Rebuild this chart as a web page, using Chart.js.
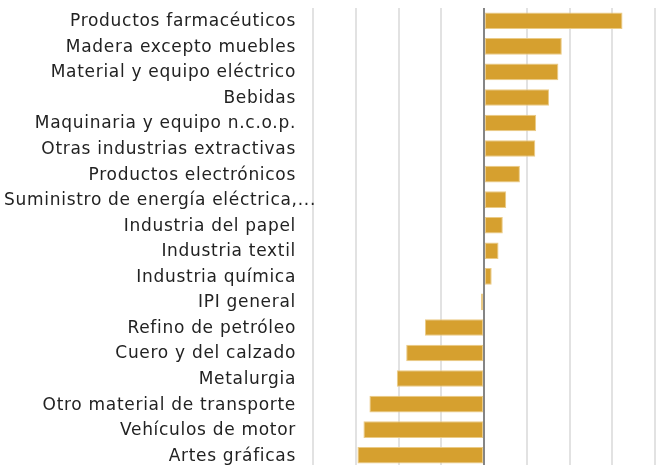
<!DOCTYPE html>
<html>
<head>
<meta charset="utf-8">
<script src="https://cdn.jsdelivr.net/npm/chart.js@4.4.1/dist/chart.umd.min.js"></script>
<style>
    html, body { margin: 0; padding: 0; background: #fff; overflow: hidden; }
    #wrap { position: relative; width: 669px; height: 468px; }
</style>
</head>
<body>
<div id="wrap"><canvas id="chartIPI"></canvas></div>
<script>
    // sectores y variacion (%)
    var sectores = [
        'Productos farmacéuticos',
        'Madera excepto muebles',
        'Material y equipo eléctrico',
        'Bebidas',
        'Maquinaria y equipo n.c.o.p.',
        'Otras industrias extractivas',
        'Productos electrónicos',
        'Suministro de energía eléctrica,...',
        'Industria del papel',
        'Industria textil',
        'Industria química',
        'IPI general',
        'Refino de petróleo',
        'Cuero y del calzado',
        'Metalurgia',
        'Otro material de transporte',
        'Vehículos de motor',
        'Artes gráficas'
    ];
    var variacion = [16.2, 9.1, 8.7, 7.6, 6.1, 6.0, 4.2, 2.6, 2.2, 1.7, 0.9, -0.35, -6.9, -9.1, -10.2, -13.4, -14.1, -14.8];
    var ejeMin = -20;
    var ejeMax = 20;
    var ejePaso = 5;

    const labelFont = '17px "DejaVu Sans"';

    // dibuja las etiquetas a la izquierda (alineadas a la derecha, las largas un poco mas a la derecha)
    const etiquetas = {
        id: 'etiquetas',
        afterDraw: function (chart) {
            const ctx = chart.ctx;
            const y = chart.scales.y;
            ctx.save();
            ctx.font = labelFont;
            ctx.letterSpacing = '0.7px';
            ctx.fillStyle = '#222222';
            ctx.textBaseline = 'middle';
            ctx.textAlign = 'right';
            for (let i = 0; i < sectores.length; i++) {
                let py = y.getPixelForValue(i) + 1;
                let w = ctx.measureText(sectores[i]).width;
                let px = w > 286 ? 316 : 296;
                ctx.fillText(sectores[i], px, py);
            }
            ctx.restore();
        }
    };

    let ctx = document.getElementById('chartIPI').getContext('2d');

    new Chart(ctx, {
        type: 'bar',
        data: {
            labels: sectores,
            datasets: [{
                label: 'Variación',
                data: variacion,
                backgroundColor: '#D6A02F',
                borderColor: '#EBCB86',
                borderWidth: 1,
                borderSkipped: false,
                barPercentage: 0.65,
                categoryPercentage: 1
            }]
        },
        plugins: [etiquetas],
        options: {
            indexAxis: 'y',
            responsive: true,
            maintainAspectRatio: false,
            animation: false,
            layout: {
                padding: { top: 8, right: 14, bottom: 0, left: 0 }
            },
            plugins: {
                legend: { display: false },
                tooltip: { enabled: false }
            },
            scales: {
                x: {
                    min: ejeMin,
                    max: ejeMax,
                    ticks: { display: false, stepSize: ejePaso },
                    border: { display: false },
                    grid: {
                        color: function (c) {
                            return c.tick && c.tick.value === 0 ? '#858585' : '#e2e2e2';
                        },
                        lineWidth: 2,
                        drawTicks: false
                    }
                },
                y: {
                    ticks: { display: false },
                    border: { display: false },
                    grid: { display: false },
                    afterFit: function (scale) {
                        scale.width = 313;
                    }
                }
            }
        }
    });
</script>
</body>
</html>
